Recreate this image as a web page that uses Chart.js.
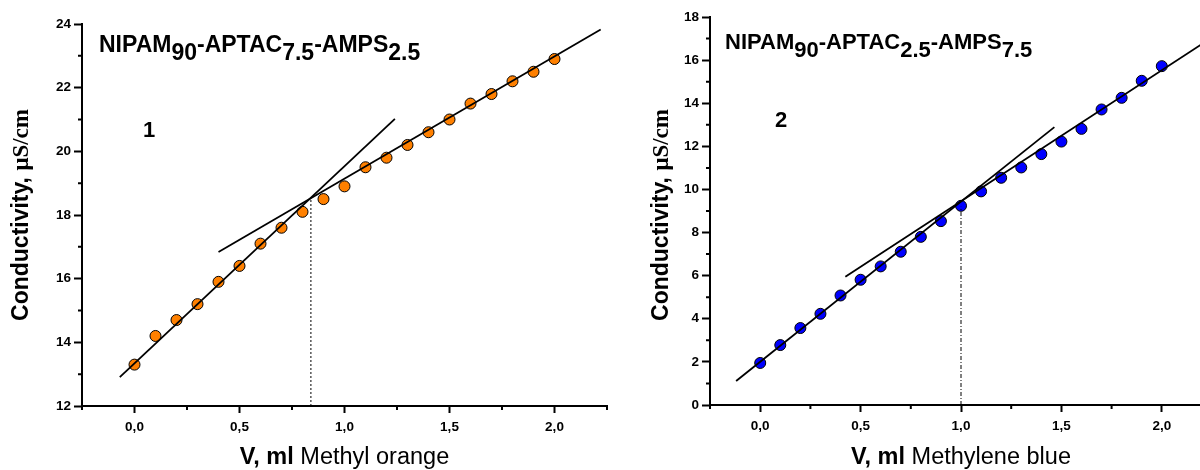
<!DOCTYPE html>
<html lang="en">
<head>
<meta charset="UTF-8">
<title>Conductivity vs dye volume</title>
<script src="https://cdn.jsdelivr.net/npm/chart.js@4.4.0/dist/chart.umd.min.js"></script>
<style>
  html, body { margin: 0; padding: 0; background: #fff; width: 1200px; height: 470px; overflow: hidden; }
  .panel { position: absolute; top: 0; }
</style>
</head>
<body>
<div class="panel" style="left:0"><canvas id="chart1" width="620" height="470"></canvas></div>
<div class="panel" style="left:620px"><canvas id="chart2" width="610" height="470"></canvas></div>

<script>
// titrant volume, ml
const volume = [0, 0.1, 0.2, 0.3, 0.4, 0.5, 0.6, 0.7, 0.8, 0.9, 1.0,
                1.1, 1.2, 1.3, 1.4, 1.5, 1.6, 1.7, 1.8, 1.9, 2.0];

// conductivity, uS/cm
const condOrange = [13.3, 14.2, 14.7, 15.2, 15.9, 16.4, 17.1, 17.6, 18.1, 18.5, 18.9,
                    19.5, 19.8, 20.2, 20.6, 21.0, 21.5, 21.8, 22.2, 22.5, 22.9];
const condBlue = [1.95, 2.78, 3.57, 4.23, 5.08, 5.81, 6.43, 7.11, 7.8, 8.53, 9.24,
                  9.91, 10.54, 11.02, 11.64, 12.22, 12.81, 13.71, 14.25, 15.04, 15.72];

// straight fits (end points) and the break point drop line
const orangeFitLowX = [-0.07, 1.24], orangeFitLowY = [12.91, 21.02];
const orangeFitHighX = [0.40, 2.22], orangeFitHighY = [16.84, 23.83];
const orangeDropX = [0.84, 0.84], orangeDropY = [12, 18.5];

const blueFitLowX = [-0.12, 1.465], blueFitLowY = [1.11, 12.89];
const blueFitHighX = [0.424, 2.25], blueFitHighY = [5.95, 17.05];
const blueDropX = [1.0, 1.0], blueDropY = [0, 9.2];

// axes
const xTicks = [0, 0.5, 1, 1.5, 2];
const xTickLabels = ['0,0', '0,5', '1,0', '1,5', '2,0'];
const xMinor = [-0.25, 0.25, 0.75, 1.25, 1.75, 2.25];
const yTicks1 = [12, 14, 16, 18, 20, 22, 24];
const yMinor1 = [13, 15, 17, 19, 21, 23];
const yTicks2 = [0, 2, 4, 6, 8, 10, 12, 14, 16, 18];
const yMinor2 = [1, 3, 5, 7, 9, 11, 13, 15, 17];

const SANS = "'Liberation Sans', Arial, sans-serif";
const SERIF = "'Liberation Serif', 'Times New Roman', serif";

const pts = (xs, ys) => xs.map((x, i) => ({ x: x, y: ys[i] }));

function drawRuns(ctx, runs, x, y) {
  runs.forEach(r => {
    ctx.font = r[1];
    ctx.fillText(r[0], x, y + (r[2] || 0));
    x += ctx.measureText(r[0]).width;
  });
}
function runsWidth(ctx, runs) {
  return runs.reduce((w, r) => { ctx.font = r[1]; return w + ctx.measureText(r[0]).width; }, 0);
}

function makeChart(id, o) {
  const decor = {
    id: 'decor',
    afterDraw(chart) {
      const ctx = chart.ctx, a = chart.chartArea;
      const xs = chart.scales.x, ys = chart.scales.y;
      ctx.save();
      // minor ticks
      ctx.strokeStyle = '#000';
      ctx.lineWidth = 2;
      ctx.beginPath();
      xMinor.forEach(v => { const p = xs.getPixelForValue(v); ctx.moveTo(p, a.bottom); ctx.lineTo(p, a.bottom + 4); });
      o.yMinor.forEach(v => { const p = ys.getPixelForValue(v); ctx.moveTo(a.left - 4, p); ctx.lineTo(a.left, p); });
      ctx.stroke();

      ctx.fillStyle = '#000';
      ctx.textAlign = 'left';
      ctx.textBaseline = 'alphabetic';
      // sample name with subscripts
      const tf = 'bold ' + o.titleSize + 'px ' + SANS;
      drawRuns(ctx, o.title.map(s => [s[0], tf, s[1] ? 8 : 0]), a.left + o.titleDx, a.top + o.titleDy);
      // curve number
      ctx.font = 'bold 22px ' + SANS;
      ctx.fillText(o.number, a.left + o.numDx, o.numY);

      // x title
      const xr = [['V, ml ', 'bold 23.5px ' + SANS], [o.dye, '23.5px ' + SANS]];
      drawRuns(ctx, xr, (a.left + a.right) / 2 - runsWidth(ctx, xr) / 2, 464);

      // y title
      const yr = [['Conductivity, ', 'bold 23px ' + SANS], ['\u03bcS/cm', 'bold 23px ' + SERIF]];
      ctx.translate(a.left - o.yTitleDx, 215);
      ctx.rotate(-Math.PI / 2);
      ctx.textBaseline = 'middle';
      drawRuns(ctx, yr, -runsWidth(ctx, yr) / 2, 0);
      ctx.restore();
    }
  };

  const tickFont = { family: SANS, size: 13.5, weight: 'bold' };
  new Chart(document.getElementById(id), {
    type: 'scatter',
    data: {
      datasets: [
        { data: pts(o.fitLow[0], o.fitLow[1]), showLine: true, borderColor: '#000', borderWidth: 1.8, pointRadius: 0 },
        { data: pts(o.fitHigh[0], o.fitHigh[1]), showLine: true, borderColor: '#000', borderWidth: 1.8, pointRadius: 0 },
        { data: pts(o.drop[0], o.drop[1]), showLine: true, borderColor: '#000', borderWidth: 1, borderDash: o.dash, pointRadius: 0 },
        { data: pts(volume, o.cond), backgroundColor: o.color, borderColor: '#000', borderWidth: 1, pointRadius: 5.5 }
      ]
    },
    options: {
      responsive: false,
      animation: false,
      devicePixelRatio: 1,
      events: [],
      layout: { padding: { top: o.padTop, right: o.padRight, left: 0, bottom: 0 } },
      plugins: { legend: { display: false }, tooltip: { enabled: false } },
      scales: {
        x: {
          type: 'linear', min: -0.25, max: 2.25,
          afterBuildTicks: s => { s.ticks = xTicks.map(v => ({ value: v })); },
          afterFit: s => { s.height = o.xHeight; },
          ticks: { callback: (v, i) => xTickLabels[i], font: tickFont, color: '#000', padding: 6, maxRotation: 0, autoSkip: false },
          grid: { drawOnChartArea: false, tickLength: 7, tickWidth: 2, tickColor: '#000' },
          border: { color: '#000', width: 2 }
        },
        y: {
          type: 'linear', min: o.yTicks[0], max: o.yTicks[o.yTicks.length - 1],
          afterBuildTicks: s => { s.ticks = o.yTicks.map(v => ({ value: v })); },
          afterFit: s => { s.width = o.yWidth; },
          ticks: { font: tickFont, color: '#000', padding: 3, autoSkip: false },
          grid: { drawOnChartArea: false, tickLength: 8, tickWidth: 2, tickColor: '#000' },
          border: { color: '#000', width: 2 }
        }
      }
    },
    plugins: [decor]
  });
}

makeChart('chart1', {
  cond: condOrange, color: '#ff8000',
  fitLow: [orangeFitLowX, orangeFitLowY], fitHigh: [orangeFitHighX, orangeFitHighY],
  drop: [orangeDropX, orangeDropY], dash: [2, 2],
  yTicks: yTicks1, yMinor: yMinor1,
  padTop: 24, padRight: 13, xHeight: 64, yWidth: 82,
  title: [['NIPAM', 0], ['90', 1], ['-APTAC', 0], ['7.5', 1], ['-AMPS', 0], ['2.5', 1]],
  titleSize: 23, titleDx: 17, titleDy: 28, number: '1', numDx: 61, numY: 137,
  dye: 'Methyl orange', yTitleDx: 60
});

makeChart('chart2', {
  cond: condBlue, color: '#0000ff',
  fitLow: [blueFitLowX, blueFitLowY], fitHigh: [blueFitHighX, blueFitHighY],
  drop: [blueDropX, blueDropY], dash: [4, 2, 1, 2],
  yTicks: yTicks2, yMinor: yMinor2,
  padTop: 17, padRight: 18, xHeight: 65, yWidth: 90,
  title: [['NIPAM', 0], ['90', 1], ['-APTAC', 0], ['2.5', 1], ['-AMPS', 0], ['7.5', 1]],
  titleSize: 22, titleDx: 15, titleDy: 32, number: '2', numDx: 65, numY: 127,
  dye: 'Methylene blue', yTitleDx: 48
});
</script>
</body>
</html>
